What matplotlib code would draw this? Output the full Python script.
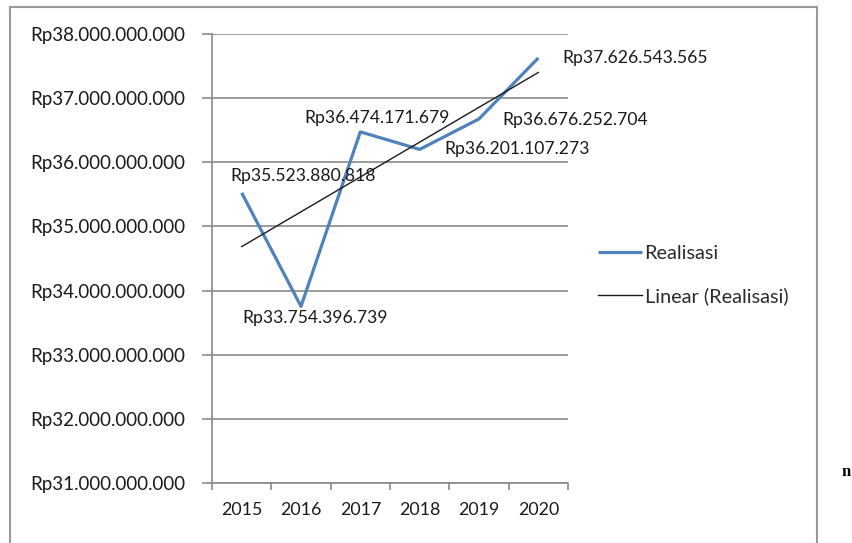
import matplotlib
matplotlib.use('Agg')
import matplotlib.pyplot as plt
from matplotlib.lines import Line2D
from matplotlib.ticker import FixedLocator, NullFormatter
import numpy as np

# data
years = ['2015', '2016', '2017', '2018', '2019', '2020']
realisasi = [35523880818, 33754396739, 36474171679, 36201107273, 36676252704, 37626543565]
value_labels = ['Rp35.523.880.818', 'Rp33.754.396.739', 'Rp36.474.171.679',
                'Rp36.201.107.273', 'Rp36.676.252.704', 'Rp37.626.543.565']
y_ticks = [31e9, 32e9, 33e9, 34e9, 35e9, 36e9, 37e9, 38e9]


def rupiah(v):
    return 'Rp' + format(int(v), ',').replace(',', '.')


plt.rcParams['font.family'] = ['Lato', 'DejaVu Sans']
plt.rcParams['font.size'] = 12

fig = plt.figure(figsize=(8.53, 5.43), dpi=100)
ax = fig.add_axes([212 / 853, 1 - 483 / 543, (568 - 212) / 853, (483 - 34) / 543])

x = np.arange(len(years))
ax.plot(x, realisasi, color='#4f81bd', lw=2.3, label='Realisasi', solid_capstyle='butt')

# linear trend line like Excel
slope, icpt = np.polyfit(x, realisasi, 1)
ax.plot(x, slope * x + icpt, color='#1a1a1a', lw=1.0, label='Linear (Realisasi)')

# data labels (offsets in pixels)
offsets = [(61, 17, 'center'), (14, -12, 'center'), (17, 14, 'center'),
           (25, 0, 'left'), (23, -1, 'left'), (24, 0, 'left')]
for xi, v, lab, (dx, dy, ha) in zip(x, realisasi, value_labels, offsets):
    ax.annotate(lab, (xi, v), xytext=(dx, dy), textcoords='offset pixels',
                ha=ha, va='center', fontsize=12.6, color='#1a1a1a')

ax.set_xlim(-0.5, 5.5)
ax.set_ylim(31e9, 38e9)
ax.set_yticks(y_ticks)
ax.set_yticklabels([rupiah(t) for t in y_ticks], fontsize=13.5)
ax.yaxis.grid(True, color='#8a8a8a', lw=1.2)
ax.set_axisbelow(True)

ax.xaxis.set_major_locator(FixedLocator(np.arange(-0.5, 6, 1)))
ax.xaxis.set_major_formatter(NullFormatter())
ax.set_xticks(x, minor=True)
ax.set_xticklabels(years, minor=True, fontsize=12.8)
ax.tick_params(axis='x', which='major', length=5, width=1.2, color='#8a8a8a', direction='out')
ax.tick_params(axis='x', which='minor', length=0, pad=14, labelcolor='#1a1a1a')
ax.tick_params(axis='y', length=7, width=1.2, color='#8a8a8a', pad=12, labelcolor='#1a1a1a')

for s in ['top', 'right']:
    ax.spines[s].set_visible(False)
for s in ['left', 'bottom']:
    ax.spines[s].set_color('#8a8a8a')
    ax.spines[s].set_linewidth(1.2)

fig.legend(loc='center left', bbox_to_anchor=(580 / 853, 1 - 275 / 543), frameon=False,
           handlelength=2.2, handletextpad=0.15, labelspacing=1.3, fontsize=14.3,
           labelcolor='#2a2a2a')

# chart border (bottom edge runs off the page)
bc = '#9a9a9a'
fig.add_artist(Line2D([10 / 853, 10 / 853], [0, 1 - 7 / 543], color=bc, lw=1.5))
fig.add_artist(Line2D([10 / 853, 817 / 853], [1 - 7 / 543, 1 - 7 / 543], color=bc, lw=1.5))
fig.add_artist(Line2D([817 / 853, 817 / 853], [0, 1 - 7 / 543], color=bc, lw=1.5))

# stray letter from the surrounding document
fig.text(842 / 853, 1 - 472 / 543, 'n', family='Liberation Serif', weight='bold',
         fontsize=12, va='center', ha='left')

fig.savefig('out.png', dpi=100)
